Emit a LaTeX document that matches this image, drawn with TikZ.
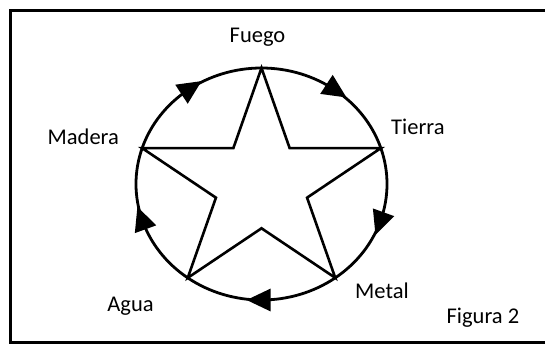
\documentclass[tikz,border=0pt]{standalone}
\usepackage{fontspec}
\setmainfont{Carlito}
\usetikzlibrary{arrows.meta,decorations.markings}

\begin{document}
\begin{tikzpicture}[x=1pt,y=1pt,
    elem/.style={inner sep=0pt,anchor=base,font=\fontsize{22.5}{27}\selectfont},
    flow/.style={line width=2.8pt,postaction={decorate},
      decoration={markings,mark=at position 0.5 with
        {\arrow[xshift=15pt]{Triangle[length=24pt,width=22pt]}}}}]
            % Same Bounding Box
            \useasboundingbox (0,0) rectangle (545,343);

            \def\rx{125.5}
            \def\ry{116}

            % Frame
            \draw[line width=3pt] (10.5,0.5) rectangle (560,332.5);

            % Star points, outer and inner
            \begin{scope}[shift={(261.5,159)}]
                \foreach \a/\n in {90/f,18/t,-54/m,-126/a,162/w}
                    \coordinate (\n) at (\a:125.5 and 116);
                \foreach \a/\n in {54/ft,-18/tm,-90/ma,-162/aw,126/wf}
                    \coordinate (\n) at (\a:47.9 and 44.3);
            \end{scope}

            % Cycle, clockwise
            \draw[flow] (f) arc[start angle=90,end angle=18,x radius=\rx,y radius=\ry];
            \draw[flow] (t) arc[start angle=18,end angle=-54,x radius=\rx,y radius=\ry];
            \draw[flow] (m) arc[start angle=-54,end angle=-126,x radius=\rx,y radius=\ry];
            \draw[flow] (a) arc[start angle=-126,end angle=-198,x radius=\rx,y radius=\ry];
            \draw[flow] (w) arc[start angle=162,end angle=90,x radius=\rx,y radius=\ry];

            % Star
            \draw[line width=2.6pt,line join=miter]
                (f) -- (ft) -- (t) -- (tm) -- (m) -- (ma) -- (a) -- (aw) -- (w) -- (wf) -- cycle;

            % Labels
            \node[elem] (fuego) at (257.5,300.3) {Fuego};
            \node[elem] (tierra) at (417.9,208) {Tierra};
            \node[elem] (metal) at (382,44.7) {Metal};
            \node[elem] (agua) at (130.5,31.3) {Agua};
            \node[elem] (madera) at (83.3,198) {Madera};
            \node[elem] (figura) at (482.9,19.7) {Figura 2};
        \end{tikzpicture}
\end{document}
